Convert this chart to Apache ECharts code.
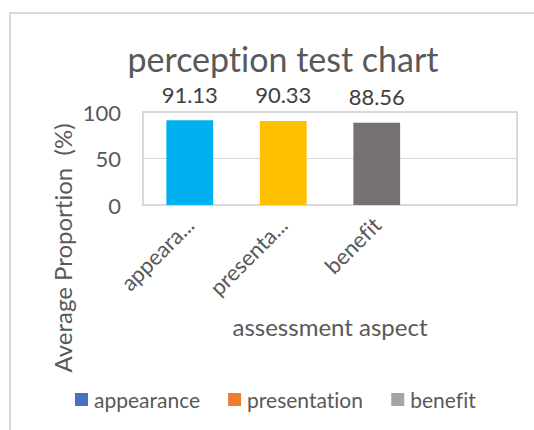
<!DOCTYPE html>
<html>
<head>
<meta charset="utf-8">
<script src="https://cdn.jsdelivr.net/npm/echarts@6/dist/echarts.min.js"></script>
<style>html,body{margin:0;padding:0;background:#fff}#c{width:534px;height:430px}#c text{font-variant-ligatures:none;}</style>
</head>
<body>
<div id="c"></div>
<script>
const titleText = 'perception test chart';
const categories = ['appearance', 'presentation', 'benefit', ''];
const values = [91.13, 90.33, 88.56, null];
const barColors = ['#00B0F0', '#FFC000', '#767171'];
const legendNames = ['appearance', 'presentation', 'benefit'];
const legendColors = ['#4472C4', '#ED7D31', '#A5A5A5'];
const yTicks = { min: 0, max: 100, interval: 50 };
const xAxisName = 'assessment aspect';
const yAxisName = 'Average Proportion  (%)';

const FONT = 'Lato';
const TXT = '#595959';
const chart = echarts.init(document.getElementById('c'), null, { renderer: 'svg' });

const barData = values.map((v, i) => ({
  value: v,
  itemStyle: { color: barColors[i] || '#999' }
}));

const series = [{
  name: 'score',
  type: 'bar',
  data: barData,
  barWidth: '50%',
  label: {
    show: true,
    position: 'top',
    distance: 15,
    fontFamily: FONT,
    fontSize: 22,
    color: '#404040',
    formatter: p => p.value == null ? '' : p.value.toFixed(2)
  }
}];
legendNames.forEach((n, i) => {
  series.push({ name: n, type: 'line', data: [], color: legendColors[i], itemStyle: { color: legendColors[i] } });
});

chart.setOption({
  animation: false,
  textStyle: { fontFamily: FONT },
  title: {
    text: titleText,
    left: 278,
    textAlign: 'center',
    top: 36,
    textStyle: { fontFamily: FONT, fontSize: 34, fontWeight: 'normal', color: TXT }
  },
  grid: {
    left: 143, right: 17, top: 112, bottom: 225,
    show: true, borderColor: '#d9d9d9', borderWidth: 2, containLabel: false
  },
  legend: {
    data: legendNames,
    left: 70,
    top: 384,
    icon: 'rect',
    itemWidth: 13,
    itemHeight: 13,
    itemGap: 28,
    textStyle: { fontFamily: FONT, fontSize: 21, color: TXT, padding: [0, 0, 0, 1] }
  },
  xAxis: {
    type: 'category',
    data: categories,
    name: xAxisName,
    nameLocation: 'middle',
    nameGap: 109,
    nameTextStyle: { fontFamily: FONT, fontSize: 24, color: TXT },
    axisLine: { show: true, lineStyle: { color: '#d9d9d9', width: 2 } },
    axisTick: { show: false },
    axisLabel: {
      rotate: 45,
      margin: 16,
      interval: 0,
      width: 104,
      overflow: 'truncate',
      ellipsis: '...',
      fontFamily: FONT,
      fontSize: 22,
      color: TXT
    }
  },
  yAxis: {
    type: 'value',
    min: yTicks.min,
    max: yTicks.max,
    interval: yTicks.interval,
    axisLine: { show: false },
    axisTick: { show: false },
    splitLine: { lineStyle: { color: '#d9d9d9', width: 1 } },
    axisLabel: { margin: 22, padding: [6, 0, 0, 0], fontFamily: FONT, fontSize: 22, color: TXT }
  },
  graphic: [
    {
      type: 'rect',
      shape: { x: 10, y: 13, width: 560, height: 460 },
      style: { fill: 'none', stroke: '#d9d9d9', lineWidth: 2 },
      silent: true, z: -1
    },
    {
      type: 'text',
      x: 62, y: 248,
      rotation: Math.PI / 2,
      style: {
        text: yAxisName,
        fontFamily: FONT, fontSize: 24, fill: TXT,
        textAlign: 'center', textVerticalAlign: 'middle'
      }
    }
  ],
  series: series
});
</script>
</body>
</html>
